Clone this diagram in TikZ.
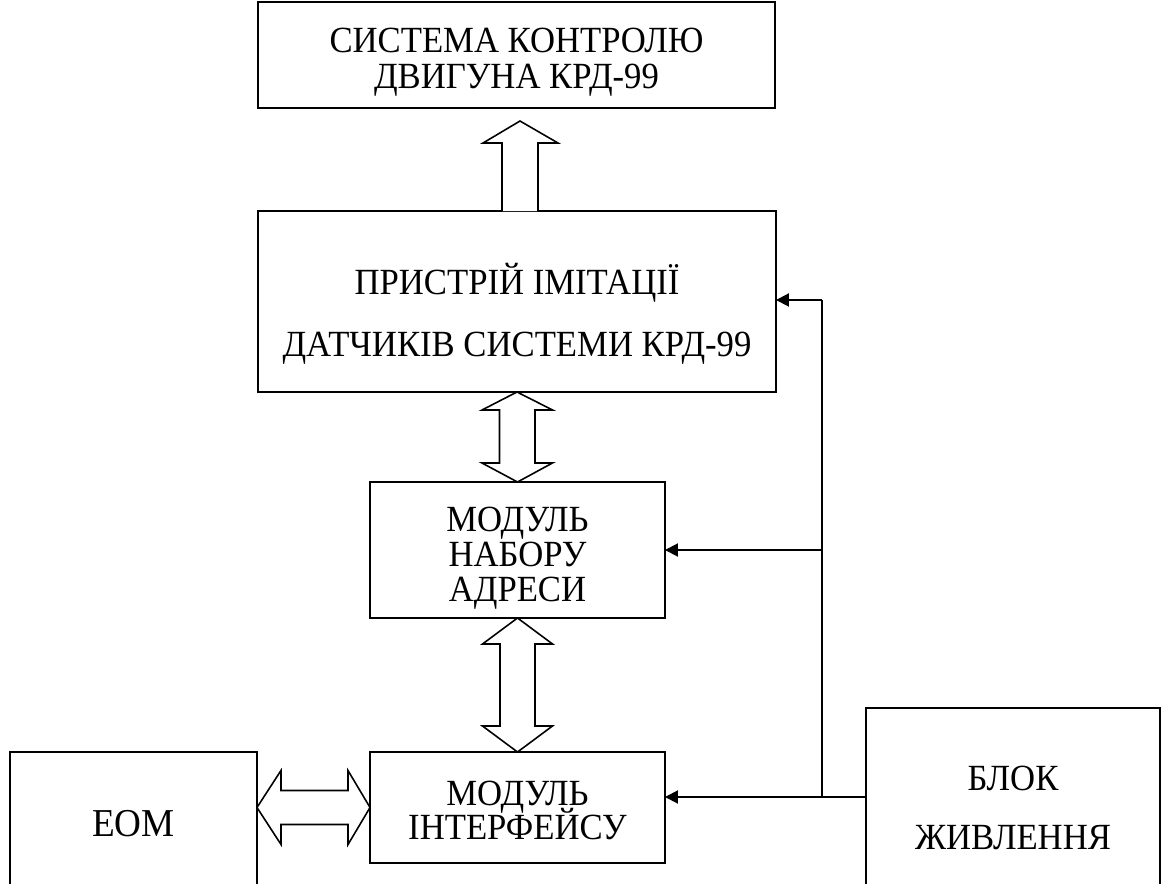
\documentclass[tikz,border=0pt]{standalone}
\usepackage{fontspec}
\setmainfont{Liberation Serif}[FakeStretch=0.94]
\usetikzlibrary{arrows.meta,calc}

\newcommand\tightlines{\lineskiplimit=-30pt\relax}

\tikzset{
    blk/.style={draw,line width=1pt,inner sep=0pt,outer sep=0pt},
    txt/.style={inner sep=0pt,align=center,font=\fontsize{21}{20.5}\selectfont\tightlines},
    pwr/.style={line width=1.1pt,-{Triangle[length=0.26cm,width=0.26cm]}},
    fat/.style={draw,line width=0.9pt,fill=white,line join=miter},
}

\begin{document}
\begin{tikzpicture}[x=0.02cm,y=-0.02cm]
    \useasboundingbox (0,0) rectangle (1162,884);
    \clip (0,0) rectangle (1162,884);

    % blocks
    \node[blk,minimum width=10.34cm,minimum height=2.12cm] (sys) at (516.5,55) {};
    \node[blk,minimum width=10.36cm,minimum height=3.62cm] (imit) at (517,301.5) {};
    \node[blk,minimum width=5.9cm,minimum height=2.72cm] (addr) at (517.5,550) {};
    \node[blk,minimum width=5.9cm,minimum height=2.22cm] (iface) at (517.5,807.5) {};
    \node[blk,minimum width=4.94cm,minimum height=2.84cm] (eom) at (133.5,823) {};
    \node[blk,minimum width=5.88cm,minimum height=3.96cm] (power) at (1013,807) {};

    % texts
    \node[txt] (sysT) at ($(sys.center)+(0,7)$) {СИСТЕМА КОНТРОЛЮ\\ДВИГУНА КРД-99};
    \node[txt,font=\fontsize{21}{35.5}\selectfont\tightlines] (imitT) at ($(imit.center)+(0,12)$) {ПРИСТРІЙ ІМІТАЦІЇ\\ДАТЧИКІВ СИСТЕМИ КРД-99};
    \node[txt,font=\fontsize{21}{20}\selectfont\tightlines] (addrT) at ($(addr.center)+(0,8)$) {МОДУЛЬ\\НАБОРУ\\АДРЕСИ};
    \node[txt,font=\fontsize{21}{19}\selectfont\tightlines] (ifaceT) at ($(iface.center)+(0,3)$) {МОДУЛЬ\\ІНТЕРФЕЙСУ};
    \node[txt,font=\fontsize{22.5}{22.5}\selectfont] (eomT) at ($(eom.center)+(0,0.5)$) {ЕОМ};
    \node[txt,font=\fontsize{21}{34}\selectfont\tightlines] (powerT) at ($(power.center)+(0,1)$) {БЛОК\\ЖИВЛЕННЯ};

    % wide arrows
    \draw[fat] ($(imit.north)+(-15,0)$) -- ++(0,-68) -- ++(-19,0) -- ($(imit.north)+(3,-90)$)
        -- ($(imit.north)+(41,-68)$) -- ++(-20,0) -- ($(imit.north)+(21,0)$);
    \draw[fat] (imit.south) -- ++(35.5,18) -- ++(-17.5,0) -- ++(0,53) -- ++(17.5,0) -- (addr.north)
        -- ++(-35.5,-19) -- ++(17.5,0) -- ++(0,-53) -- ++(-17.5,0) -- cycle;
    \draw[fat] (addr.south) -- ++(35,26) -- ++(-17.5,0) -- ++(0,82) -- ++(17.5,0) -- (iface.north)
        -- ++(-35,-26) -- ++(17.5,0) -- ++(0,-82) -- ++(-17.5,0) -- cycle;
    \draw[fat] (eom.east |- iface.west) -- ++(24,-37) -- ++(0,20) -- ++(67,0) -- ++(0,-20) -- (iface.west)
        -- ++(-22,37) -- ++(0,-20) -- ++(-67,0) -- ++(0,20) -- cycle;

    % supply lines
    \coordinate (busB) at (822,797);
    \coordinate (busT) at (822,300);
    \draw[line width=1.1pt] (power.west |- busB) -- (busB) -- (busT);
    \draw[pwr] (busT) -- (busT -| imit.east);
    \draw[pwr] (busT |- addr.east) -- (addr.east);
    \draw[pwr] (busB) -- (busB -| iface.east);
\end{tikzpicture}
\end{document}
